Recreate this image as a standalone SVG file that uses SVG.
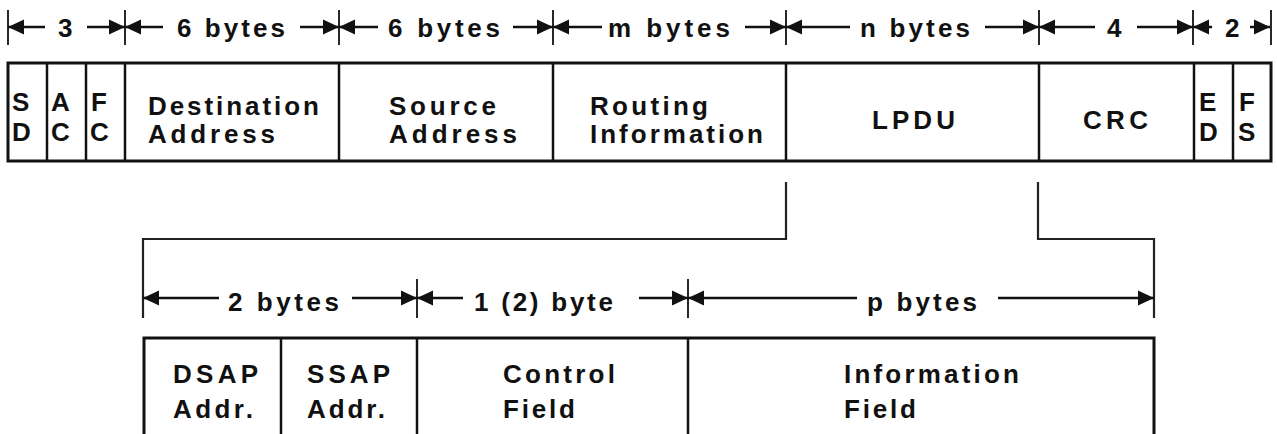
<svg xmlns="http://www.w3.org/2000/svg" width="1277" height="434" viewBox="0 0 1277 434">
<style>
text{font-family:"Liberation Sans",Arial,sans-serif;font-weight:bold;font-size:26px;fill:#111}
.frame{fill:none;stroke:#111;stroke-width:3}
.sep{stroke:#111;stroke-width:2.5}
.dim{stroke:#111;stroke-width:2.5;fill:none}
.tick{stroke:#111;stroke-width:1.8}
.conn{stroke:#222;stroke-width:2.2;fill:none}
</style>
<defs>
<marker id="ah" markerUnits="userSpaceOnUse" markerWidth="18" markerHeight="18" viewBox="0 0 18 18" refX="16" refY="8" orient="auto">
<path d="M0,0.5 L16,8 L0,15.5 z" fill="#111"/>
</marker>
</defs>
<rect width="1277" height="434" fill="#fff"/>

<g id="top-dimensions">
<g class="tick">
<line x1="8" y1="10" x2="8" y2="45"/>
<line x1="125" y1="10" x2="125" y2="45"/>
<line x1="339" y1="10" x2="339" y2="45"/>
<line x1="553" y1="10" x2="553" y2="45"/>
<line x1="786" y1="10" x2="786" y2="45"/>
<line x1="1039" y1="10" x2="1039" y2="45"/>
<line x1="1193" y1="10" x2="1193" y2="45"/>
<line x1="1271" y1="10" x2="1271" y2="45"/>
</g>
<g class="dim" marker-end="url(#ah)">
<line x1="45" y1="27" x2="8" y2="27"/>
<line x1="87" y1="27" x2="125" y2="27"/>
<line x1="163" y1="27" x2="125" y2="27"/>
<line x1="300" y1="27" x2="339" y2="27"/>
<line x1="378" y1="27" x2="339" y2="27"/>
<line x1="513" y1="27" x2="553" y2="27"/>
<line x1="602" y1="27" x2="553" y2="27"/>
<line x1="745" y1="27" x2="786" y2="27"/>
<line x1="850" y1="27" x2="786" y2="27"/>
<line x1="985" y1="27" x2="1039" y2="27"/>
<line x1="1095" y1="27" x2="1039" y2="27"/>
<line x1="1137" y1="27" x2="1193" y2="27"/>
<line x1="1212" y1="27" x2="1193" y2="27"/>
<line x1="1250" y1="27" x2="1270" y2="27"/>
</g>
<text x="58" y="37">3</text>
<text x="177" y="37" textLength="108" lengthAdjust="spacing">6 bytes</text>
<text x="388" y="37" textLength="112" lengthAdjust="spacing">6 bytes</text>
<text x="608" y="37" textLength="122" lengthAdjust="spacing">m bytes</text>
<text x="860" y="37" textLength="110" lengthAdjust="spacing">n bytes</text>
<text x="1107" y="37">4</text>
<text x="1225" y="37">2</text>
</g>

<g id="frame">
<rect class="frame" x="8" y="63" width="1263" height="98"/>
<g class="sep">
<line x1="47" y1="63" x2="47" y2="161"/>
<line x1="86" y1="63" x2="86" y2="161"/>
<line x1="125" y1="63" x2="125" y2="161"/>
<line x1="339" y1="63" x2="339" y2="161"/>
<line x1="553" y1="63" x2="553" y2="161"/>
<line x1="786" y1="63" x2="786" y2="161"/>
<line x1="1039" y1="63" x2="1039" y2="161"/>
<line x1="1194" y1="63" x2="1194" y2="161"/>
<line x1="1233" y1="63" x2="1233" y2="161"/>
</g>
</g>
<g id="SD"><text x="12" y="111">S</text><text x="12" y="141">D</text></g>
<g id="AC"><text x="51" y="111">A</text><text x="51" y="141">C</text></g>
<g id="FC"><text x="91" y="111">F</text><text x="90" y="141">C</text></g>
<g id="destination"><text x="148" y="115" textLength="171" lengthAdjust="spacing">Destination</text><text x="148" y="143" textLength="127" lengthAdjust="spacing">Address</text></g>
<g id="source"><text x="389" y="115" textLength="107" lengthAdjust="spacing">Source</text><text x="389" y="143" textLength="128" lengthAdjust="spacing">Address</text></g>
<g id="routing"><text x="590" y="115" textLength="118" lengthAdjust="spacing">Routing</text><text x="590" y="143" textLength="173" lengthAdjust="spacing">Information</text></g>
<g id="lpdu"><text x="872" y="129" textLength="83" lengthAdjust="spacing">LPDU</text></g>
<g id="crc"><text x="1083" y="129" textLength="65" lengthAdjust="spacing">CRC</text></g>
<g id="ED"><text x="1199" y="111">E</text><text x="1199" y="141">D</text></g>
<g id="FS"><text x="1239" y="111">F</text><text x="1238" y="141">S</text></g>

<g id="connectors">
<path class="conn" d="M786,182 V239 H143 V318"/>
<path class="conn" d="M1038,182 V239 H1154 V318"/>
</g>

<g id="lower-dimensions">
<g class="tick">
<line x1="417" y1="279" x2="417" y2="318"/>
<line x1="688" y1="279" x2="688" y2="318"/>
</g>
<g class="dim" marker-end="url(#ah)">
<line x1="219" y1="298" x2="143" y2="298"/>
<line x1="352" y1="298" x2="417" y2="298"/>
<line x1="463" y1="298" x2="417" y2="298"/>
<line x1="639" y1="298" x2="688" y2="298"/>
<line x1="857" y1="298" x2="688" y2="298"/>
<line x1="998" y1="298" x2="1154" y2="298"/>
</g>
<text x="228" y="311" textLength="111" lengthAdjust="spacing">2 bytes</text>
<text x="474" y="311" textLength="139" lengthAdjust="spacing">1 (2) byte</text>
<text x="867" y="311" textLength="110" lengthAdjust="spacing">p bytes</text>
</g>

<g id="lower-frame">
<path class="frame" d="M144,440 V338 H1154 V440"/>
<g class="sep">
<line x1="281" y1="338" x2="281" y2="440"/>
<line x1="417" y1="338" x2="417" y2="440"/>
<line x1="688" y1="338" x2="688" y2="440"/>
</g>
</g>
<g id="dsap"><text x="173" y="383" textLength="85" lengthAdjust="spacing">DSAP</text><text x="173" y="418" textLength="80" lengthAdjust="spacing">Addr.</text></g>
<g id="ssap"><text x="307" y="383" textLength="83" lengthAdjust="spacing">SSAP</text><text x="307" y="418" textLength="78" lengthAdjust="spacing">Addr.</text></g>
<g id="control"><text x="503" y="383" textLength="112" lengthAdjust="spacing">Control</text><text x="503" y="418" textLength="72" lengthAdjust="spacing">Field</text></g>
<g id="information"><text x="844" y="383" textLength="175" lengthAdjust="spacing">Information</text><text x="844" y="418" textLength="72" lengthAdjust="spacing">Field</text></g>
</svg>
